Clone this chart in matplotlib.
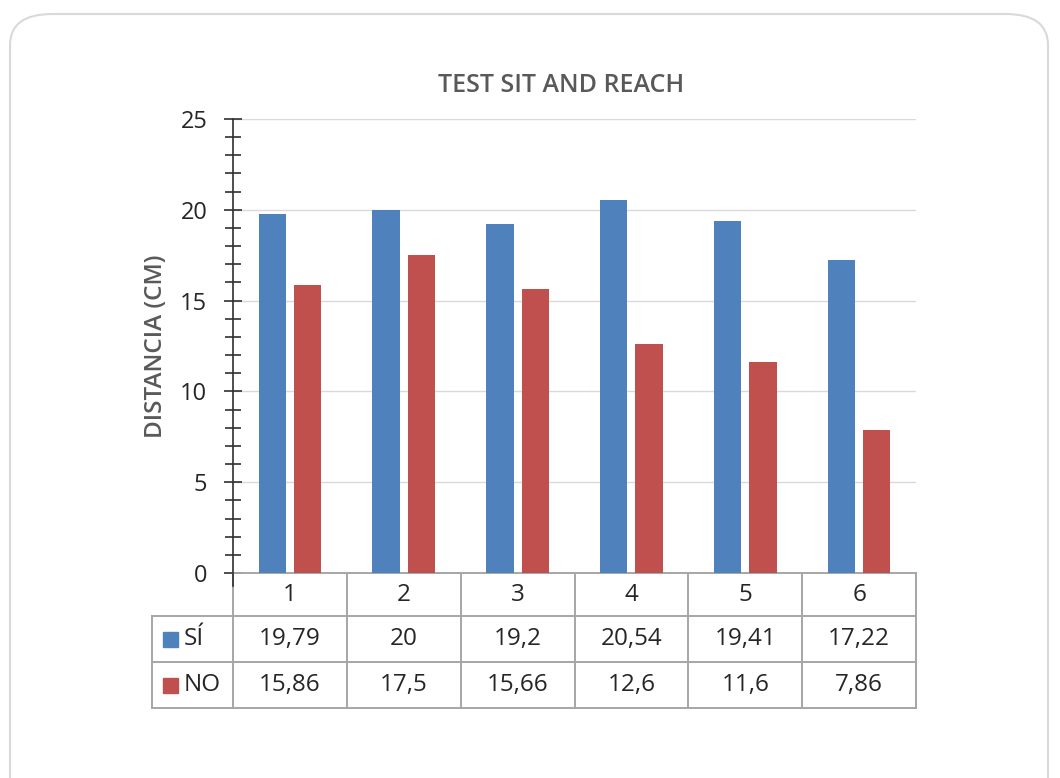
import matplotlib.pyplot as plt
import numpy as np
from matplotlib.patches import FancyBboxPatch, Rectangle

# data
categories = ["1", "2", "3", "4", "5", "6"]
si_values = [19.79, 20, 19.2, 20.54, 19.41, 17.22]
no_values = [15.86, 17.5, 15.66, 12.6, 11.6, 7.86]
si_labels = ["19,79", "20", "19,2", "20,54", "19,41", "17,22"]
no_labels = ["15,86", "17,5", "15,66", "12,6", "11,6", "7,86"]
series_names = ["SÍ", "NO"]

blue = "#4F81BD"
red = "#C0504D"
gray_txt = "#595959"
line_col = "#A6A6A6"

plt.rcParams["font.family"] = ["Open Sans", "DejaVu Sans"]

fig = plt.figure(figsize=(10.6, 7.78), dpi=100)
W, H = 1060, 778

# rounded frame around the chart (runs off the bottom of the image)
frame = FancyBboxPatch((10 / W, -60 / H), 1038 / W, (778 - 14 + 60) / H,
                       boxstyle="round,pad=0,rounding_size=0.04",
                       transform=fig.transFigure, fc="white", ec="#D9D9D9", lw=1.5,
                       zorder=-5)
fig.patches.append(frame)

ax = fig.add_axes([233 / W, 1 - 573 / H, (916 - 233) / W, (573 - 119) / H])
ax.patch.set_alpha(0)
x = np.arange(len(categories))
w = 0.24
ax.bar(x - 0.155, si_values, w, color=blue, zorder=3)
ax.bar(x + 0.155, no_values, w, color=red, zorder=3)

ax.set_xlim(-0.5, len(categories) - 0.5)
ax.set_ylim(0, 25)
ax.set_yticks(np.arange(0, 26, 5))
ax.set_yticks(np.arange(0, 26, 1), minor=True)
ax.tick_params(axis="y", which="major", direction="inout", length=13, width=1.2,
               color="#303030", labelsize=17, pad=12, labelcolor="#262626")
ax.tick_params(axis="y", which="minor", direction="inout", length=12, width=1.2, color="#303030")
ax.set_xticks([])
ax.yaxis.grid(True, color="#D9D9D9", lw=1, zorder=0)
for s in ["top", "right", "bottom"]:
    ax.spines[s].set_visible(False)
ax.spines["left"].set_color("#303030")
ax.spines["left"].set_linewidth(1.2)
ax.spines["left"].set_bounds(-0.7, 25)

ax.set_ylabel("DISTANCIA (CM)", color=gray_txt, fontsize=17.5, fontweight="semibold", labelpad=9)
fig.text(561 / W, 1 - 86 / H, "TEST SIT AND REACH", ha="center", va="center",
         fontsize=18, fontweight="semibold", color=gray_txt)

# data table under the axis
row_h = 45 / (573 - 119) * 25  # in data units
rows_y = [0, -row_h * 0.96, -row_h * 1.98, -row_h * 3.0]
left_x = -0.5 - (233 - 152) / ((916 - 233) / 6)
tk = dict(clip_on=False, color=line_col, lw=1.4)
# horizontal lines
ax.plot([-0.5, 5.5], [rows_y[0]] * 2, **tk)
for yy in rows_y[1:]:
    ax.plot([left_x, 5.5], [yy] * 2, **tk)
# vertical lines
ax.plot([left_x, left_x], [rows_y[1], rows_y[3]], **tk)
for k in range(len(categories) + 1):
    ax.plot([k - 0.5] * 2, [rows_y[0], rows_y[3]], **tk)

fs = 17.5
for i, c in enumerate(categories):
    ax.text(i, (rows_y[0] + rows_y[1]) / 2, c, ha="center", va="center", fontsize=fs,
            color="#262626", clip_on=False)
    ax.text(i, (rows_y[1] + rows_y[2]) / 2, si_labels[i], ha="center", va="center", fontsize=fs,
            color="#262626", clip_on=False)
    ax.text(i, (rows_y[2] + rows_y[3]) / 2, no_labels[i], ha="center", va="center", fontsize=fs,
            color="#262626", clip_on=False)

# legend keys in the table
for name, col, r in zip(series_names, [blue, red], [1, 2]):
    yc = (rows_y[r] + rows_y[r + 1]) / 2
    ypix = ax.transData.transform((0, yc))[1]
    fig.patches.append(Rectangle((163 / W, (ypix - 7.5) / H), 15 / W, 15 / H, color=col,
                                 transform=fig.transFigure))
    ax.text(left_x + 0.28, yc, name, ha="left", va="center", fontsize=fs,
            color="#262626", clip_on=False)

fig.savefig("out.png", dpi=100)
